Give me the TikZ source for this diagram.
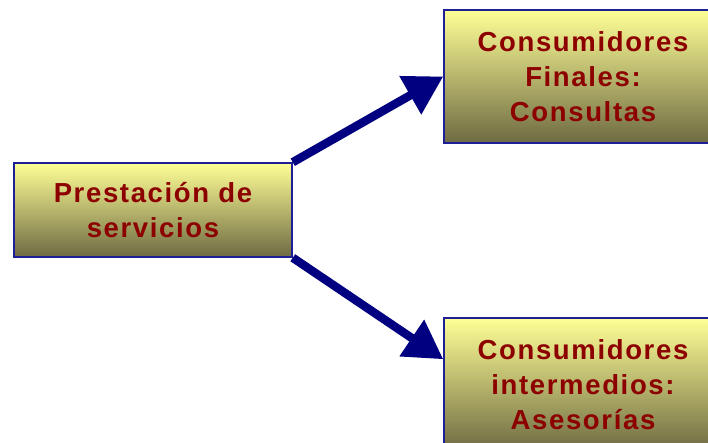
\documentclass[tikz,border=0pt]{standalone}
\usepackage{fontspec}
\setmainfont{Liberation Sans}
\newfontfamily\boxfont[LetterSpace=6]{Liberation Sans}
\usetikzlibrary{arrows.meta,positioning}
\definecolor{boxtop}{RGB}{255,255,150}
\definecolor{boxbot}{RGB}{110,106,66}
\definecolor{boxline}{RGB}{30,30,150}
\definecolor{arrowblue}{RGB}{0,0,128}
\definecolor{textred}{RGB}{140,0,0}

\begin{document}
\begin{tikzpicture}[
    x=1pt, y=-1pt,
    box/.style={rectangle, draw=boxline, line width=1.5pt, top color=boxtop, bottom color=boxbot, align=center, minimum width=278pt, inner sep=0pt, text=textred, font=\boxfont\bfseries\fontsize{27.5}{35}\selectfont},
    arrow/.style={-{Triangle[length=38pt, width=42pt]}, line width=8.5pt, arrowblue}
  ]
    \useasboundingbox (0,0) rectangle (708,443);
    \node[box, minimum height=94pt] (serv) at (153,210) {Prestación de\\servicios};
    \node[box, minimum height=133pt] (fin) at (583,76.5) {Consumidores\\Finales:\\Consultas};
    \node[box, minimum height=133pt] (inter) at (583,384.5) {Consumidores\\intermedios:\\Asesorías};
    \coordinate (interin) at ([yshift=-42pt]inter.north west);

    \draw[arrow] (serv.north east) -- (fin.west);
    \draw[arrow] (serv.south east) -- (interin);
  \end{tikzpicture}
\end{document}
